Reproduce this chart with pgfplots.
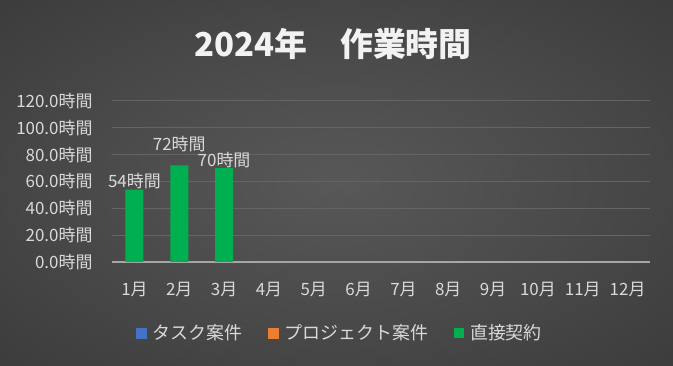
\documentclass[border=0pt]{standalone}
\usepackage{pgfplots}
\pgfplotsset{compat=1.18}
\usepackage{fontspec}
\setmainfont{Noto Sans CJK JP}
\definecolor{lbl}{HTML}{D9D9D9}
\definecolor{titlec}{HTML}{F2F2F2}
\definecolor{gridc}{HTML}{646464}
\definecolor{axisc}{HTML}{A6A6A6}
\definecolor{tblue}{HTML}{4472C4}
\definecolor{torange}{HTML}{ED7D31}
\definecolor{tgreen}{HTML}{00B050}
\definecolor{bgc}{HTML}{585858}
\definecolor{bgm}{HTML}{474747}
\definecolor{bge}{HTML}{303030}
\definecolor{bgk}{HTML}{242424}
\pgfdeclareradialshading{bgshade}{\pgfpoint{0bp}{0bp}}{color(0bp)=(bgc);color(22bp)=(bgm);color(50bp)=(bge);color(72bp)=(bgk)}
\newcommand{\lf}{\fontsize{17}{20}\selectfont}
\newcommand{\lgf}{\fontsize{18}{21}\selectfont}
\begin{document}
\begin{tikzpicture}
\shade[shading=bgshade] (0bp,0bp) rectangle (673bp,366bp);
\node[font=\fontsize{33}{38}\selectfont\bfseries, text=titlec] at (333bp,322bp) {2024年　作業時間};
\begin{axis}[
  at={(112bp,104bp)}, anchor=south west,
  scale only axis, width=538bp, height=161bp,
  xmin=0.5, xmax=12.5, ymin=0, ymax=120,
  xtick={1,...,12},
  xticklabels={1月,2月,3月,4月,5月,6月,7月,8月,9月,10月,11月,12月},
  ytick={0,20,...,120},
  yticklabel={\pgfmathprintnumber[fixed,fixed zerofill,precision=1,assume math mode=true]{\tick}時間},
  axis x line=bottom, axis y line=left,
  y axis line style={draw=none},
  x axis line style={-, draw=axisc, line width=1.5bp},
  major tick length=0pt,
  ymajorgrids, major grid style={draw=gridc, line width=1bp},
  tick label style={font=\lf, text=lbl},
  yticklabel style={xshift=-16bp},
  xticklabel style={yshift=-17bp},
  legend style={at={(0.4238,-0.441)}, anchor=center, draw=none, fill=none,
    font=\lgf, text=lbl, legend columns=3,
    /tikz/every even column/.append style={column sep=24bp}},
]
\addlegendimage{legend image code/.code={\fill[tblue] (0bp,-5bp) rectangle (10bp,5bp); \path (14bp,0bp);}}
\addlegendimage{legend image code/.code={\fill[torange] (0bp,-5bp) rectangle (10bp,5bp); \path (14bp,0bp);}}
\addplot[ybar, bar width=18bp, bar shift=0pt, fill=tgreen, draw=none,
  legend image code/.code={\fill[tgreen] (0bp,-5bp) rectangle (10bp,5bp); \path (14bp,0bp);},
  visualization depends on={value \coordindex \as \myidx},
  nodes near coords={\pgfmathprintnumber[assume math mode=true]{\pgfplotspointmeta}時間},
  every node near coord/.append style={font=\lf, text=lbl, inner sep=0.5bp, yshift={(\myidx==1)*13}}]
  coordinates {(1,54) (2,72) (3,70)};
\legend{タスク案件,プロジェクト案件,直接契約}
\end{axis}
\end{tikzpicture}
\end{document}
